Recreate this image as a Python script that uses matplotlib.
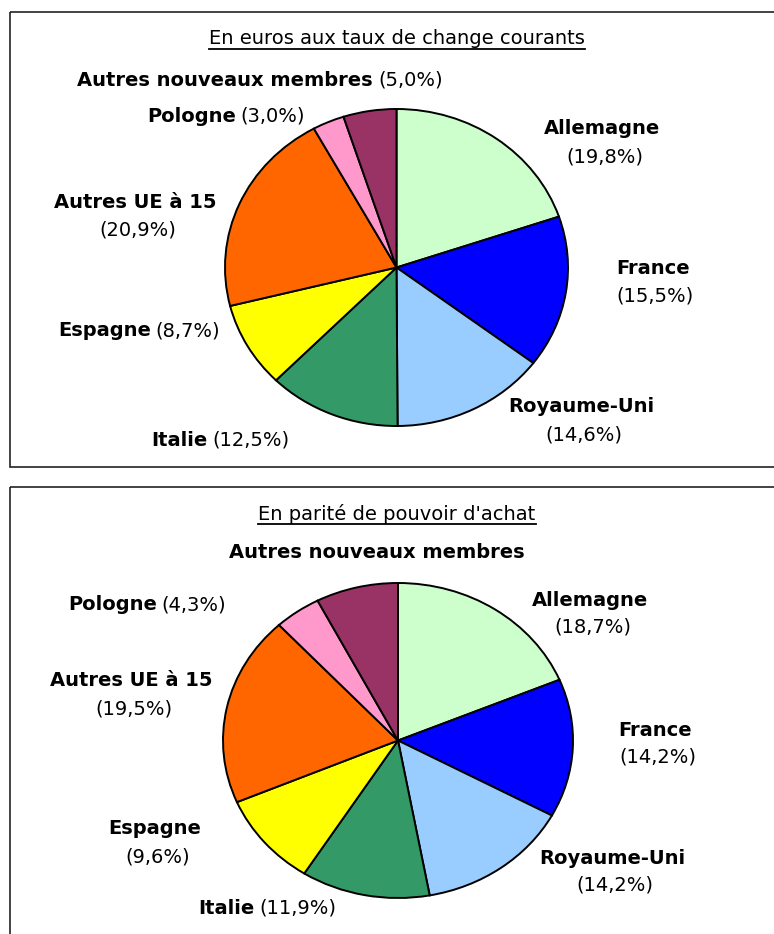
import matplotlib
matplotlib.use("Agg")
import matplotlib.pyplot as plt
from matplotlib.patches import Rectangle

# données : part de chaque pays (en %)
pays = ["Allemagne", "France", "Royaume-Uni", "Italie", "Espagne",
        "Autres UE à 15", "Pologne", "Autres nouveaux membres"]
couleurs = ["#CCFFCC", "#0000FF", "#99CCFF", "#339966", "#FFFF00",
            "#FF6600", "#FF99CC", "#993366"]
parts_change = [19.8, 15.5, 14.6, 12.5, 8.7, 20.9, 3.0, 5.0]
parts_ppa = [18.7, 14.2, 14.2, 11.9, 9.6, 19.5, 4.3, 7.6]
titres = ["En euros aux taux de change courants", "En parité de pouvoir d'achat"]

FONT = "DejaVu Sans"
FS = 14

fig = plt.figure(figsize=(7.74, 9.34), dpi=100)
bg = fig.add_axes([0, 0, 1, 1])
bg.set_xlim(0, 774)
bg.set_ylim(934, 0)
bg.axis("off")
renderer = fig.canvas.get_renderer()


def pct(v):
    return "(" + f"{v:.1f}".replace(".", ",") + "%)"


def ligne(xc, y, gras, normal):
    """Texte centré : partie en gras suivie d'une partie normale."""
    t1 = bg.text(0, y, gras, fontweight="bold", fontsize=FS, family=FONT,
                 ha="left", va="center")
    t2 = None
    w1 = t1.get_window_extent(renderer).width
    w2 = 0
    if normal:
        t2 = bg.text(0, y, normal, fontsize=FS, family=FONT, ha="left", va="center")
        w2 = t2.get_window_extent(renderer).width
        esp = FS * 0.35
        w1 += esp
    x0 = xc - (w1 + w2) / 2
    t1.set_x(x0)
    if t2 is not None:
        t2.set_x(x0 + w1)


def titre(xc, y, txt):
    t = bg.text(xc, y, txt, fontsize=FS, family=FONT, ha="center", va="center")
    bb = t.get_window_extent(renderer)
    yl = y + 10
    bg.plot([xc - bb.width / 2, xc + bb.width / 2], [yl, yl], color="black", lw=1.3)


def camembert(box, valeurs):
    # box = (gauche, haut, droite, bas) en pixels
    l, t, r, b = box
    ax = fig.add_axes([l / 774, 1 - b / 934, (r - l) / 774, (b - t) / 934])
    wedges, _ = ax.pie(valeurs, colors=couleurs, startangle=90, counterclock=False,
                       wedgeprops=dict(edgecolor="black", linewidth=1.4))
    for w in wedges:
        w.set_clip_on(False)
    ax.set_aspect("auto")
    ax.set_xlim(-1, 1)
    ax.set_ylim(-1, 1)
    ax.axis("off")


# cadres
bg.add_patch(Rectangle((10, 12), 800, 455, fill=False, edgecolor="#222222", lw=1.2))
bg.add_patch(Rectangle((10, 487), 800, 500, fill=False, edgecolor="#222222", lw=1.2))

# --- graphique du haut ---
titre(397, 39, titres[0])
camembert((225, 109, 568, 426), parts_change)
ligne(260, 80, pays[7], pct(parts_change[7]))
ligne(226, 116, pays[6], pct(parts_change[6]))
ligne(135, 203, pays[5], "")
ligne(135, 230, "", pct(parts_change[5]))
ligne(139, 331, pays[4], pct(parts_change[4]))
ligne(220, 440, pays[3], pct(parts_change[3]))
ligne(602, 129, pays[0], "")
ligne(602, 157, "", pct(parts_change[0]))
ligne(653, 268, pays[1], "")
ligne(653, 296, "", pct(parts_change[1]))
ligne(581, 407, pays[2], "")
ligne(581, 435, "", pct(parts_change[2]))

# --- graphique du bas ---
titre(397, 514, titres[1])
camembert((223, 583, 573, 898), parts_ppa)
ligne(377, 552, pays[7], "")
ligne(147, 605, pays[6], pct(parts_ppa[6]))
ligne(131, 681, pays[5], "")
ligne(131, 709, "", pct(parts_ppa[5]))
ligne(155, 829, pays[4], "")
ligne(155, 857, "", pct(parts_ppa[4]))
ligne(267, 908, pays[3], pct(parts_ppa[3]))
ligne(590, 600, pays[0], "")
ligne(590, 627, "", pct(parts_ppa[0]))
ligne(655, 730, pays[1], "")
ligne(655, 757, "", pct(parts_ppa[1]))
ligne(612, 858, pays[2], "")
ligne(612, 885, "", pct(parts_ppa[2]))

fig.savefig("out.png", dpi=100)
